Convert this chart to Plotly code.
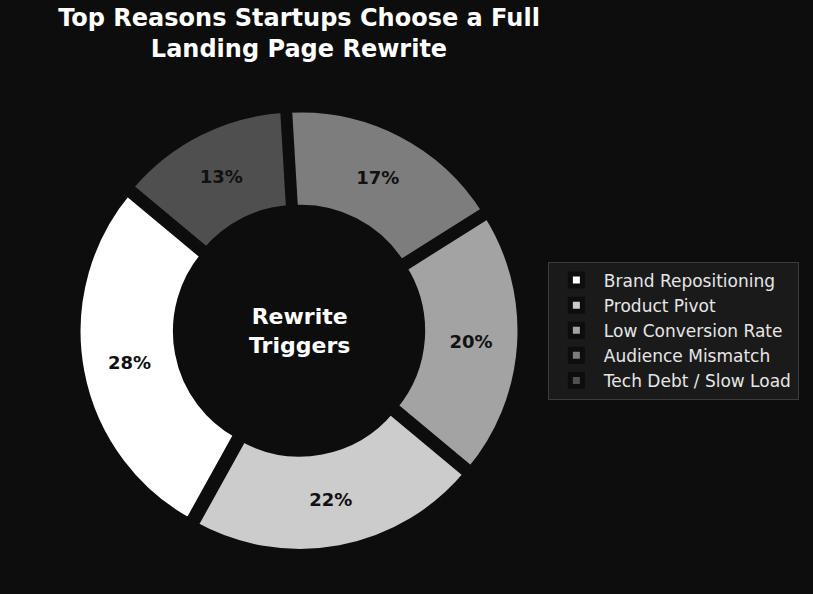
import plotly.graph_objects as go

reasons = ["Brand Repositioning", "Product Pivot", "Low Conversion Rate",
           "Audience Mismatch", "Tech Debt / Slow Load"]
shares = [28, 22, 20, 17, 13]
slice_colors = ["#ffffff", "#cccccc", "#a3a3a3", "#7d7d7d", "#4f4f4f"]

BG = "#0d0d0d"

fig = go.Figure()
fig.add_trace(go.Pie(
    labels=reasons,
    values=shares,
    sort=False,
    direction="counterclockwise",
    rotation=-151,
    hole=0.54,
    pull=[0.02] * len(shares),
    marker=dict(colors=slice_colors, line=dict(color=BG, width=8)),
    texttemplate="%{percent:.0%}",
    textposition="inside",
    insidetextorientation="horizontal",
    textfont=dict(family="DejaVu Sans", size=18, color="#111111", weight="bold"),
))

fig.add_annotation(
    x=0.5, y=0.5, xref="paper", yref="paper",
    text="Rewrite<br>Triggers", showarrow=False,
    font=dict(family="DejaVu Sans", size=22, color="white", weight="bold"),
)

fig.update_layout(
    width=813, height=594,
    paper_bgcolor=BG, plot_bgcolor=BG,
    margin=dict(l=20, r=235, t=108, b=41),
    title=dict(
        text="Top Reasons Startups Choose a Full<br>Landing Page Rewrite",
        x=0.5, xref="paper", xanchor="center",
        y=0.956, yanchor="top",
        font=dict(family="DejaVu Sans", size=24, color="white", weight="bold"),
    ),
    legend=dict(
        x=0.946, y=0.5, xanchor="left", yanchor="middle",
        bgcolor="#1a1a1a", bordercolor="#3c3c3c", borderwidth=1,
        itemwidth=45,
        font=dict(family="DejaVu Sans", size=17, color="#e6e6e6"),
    ),
)

# drop the default page margin so the figure sits at the window's corner
fig.write_html("out.html", config={"displayModeBar": False},
               post_script="document.body.style.margin='0';")
